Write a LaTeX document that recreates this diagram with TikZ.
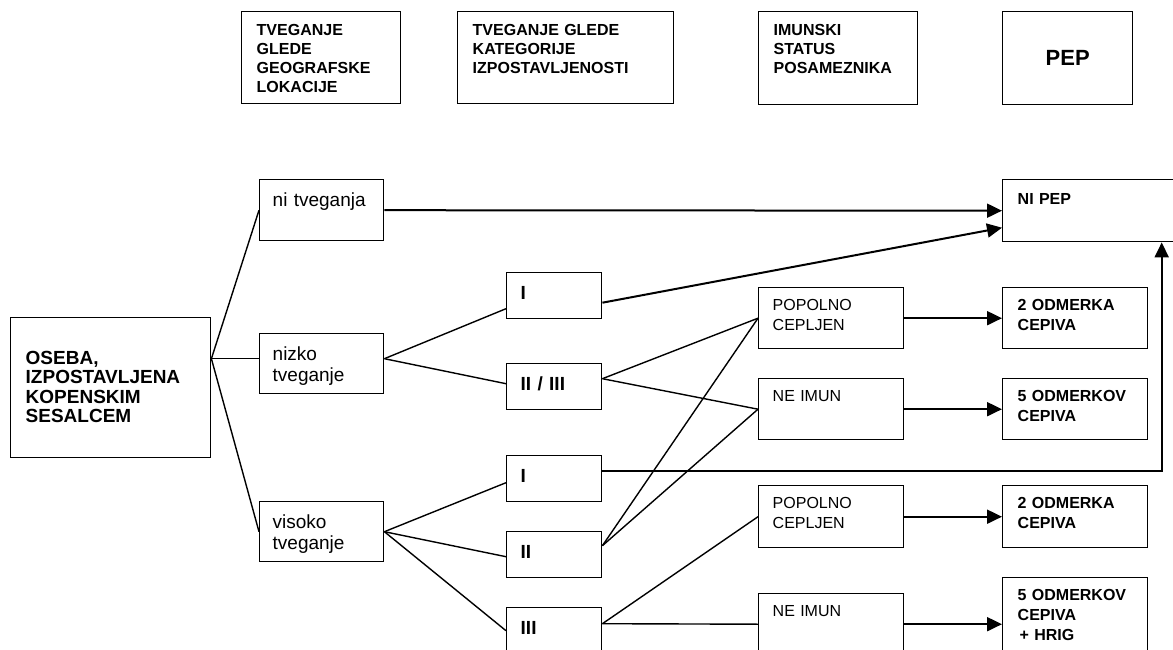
\documentclass[tikz,border=0pt]{standalone}
\usepackage{fontspec}
\setmainfont{Liberation Sans}
\usetikzlibrary{arrows.meta}

\begin{document}
\begin{tikzpicture}[x=1pt, y=-1pt,
  box/.style={draw, line width=1.4pt, anchor=north west, align=left},
  hdr/.style={box, font=\fontsize{16}{19}\selectfont\bfseries, inner xsep=15pt, inner ysep=12pt, text height=11.5pt, text depth=56.5pt},
  geo/.style={box, font=\fontsize{19}{21.5}\selectfont, inner xsep=13pt, inner ysep=13pt, text width=98pt, text height=13.7pt, text depth=20.3pt},
  cat/.style={box, font=\fontsize{19}{21}\selectfont\bfseries, inner xsep=14pt, inner ysep=13pt, text width=67pt, text height=13.7pt, text depth=6.3pt},
  imm/.style={box, font=\fontsize{16}{20}\selectfont, inner xsep=14pt, inner ysep=11.5pt, text width=117pt, text height=11.5pt, text depth=26.5pt},
  pep/.style={box, font=\fontsize{16}{20}\selectfont\bfseries, inner xsep=15pt, inner ysep=11pt, text width=115pt, text height=11.5pt, text depth=27.5pt},
  link/.style={line width=1.4pt},
  arr/.style={line width=2pt, -{Triangle[length=15pt, width=14pt]}}]
  \useasboundingbox (0,0) rectangle (1173,650);
  \clip (0,0) rectangle (1173,650);
  \fill[white] (0,0) rectangle (1173,650);
  % column heads
  \node[hdr, text width=129pt] (hgeo) at (241,11) {TVEGANJE\\GLEDE\\GEOGRAFSKE\\LOKACIJE};
  \node[hdr, text width=186pt] (hcat) at (457,11) {TVEGANJE GLEDE\\KATEGORIJE\\IZPOSTAVLJENOSTI};
  \node[hdr, text width=129pt, text depth=57.5pt] (himun) at (758,11) {IMUNSKI\\STATUS\\POSAMEZNIKA};
  \node[box, minimum width=130pt, minimum height=93pt, font=\fontsize{22}{24}\selectfont\bfseries] (hpep) at (1002,11) {PEP};
  % exposed person
  \node[box, font=\fontsize{19}{19.5}\selectfont\bfseries, inner xsep=15pt, inner ysep=33pt, text width=170pt, text height=13.7pt, text depth=60.3pt] (oseba) at (10,317) {OSEBA,\\IZPOSTAVLJENA\\KOPENSKIM\\SESALCEM};
  \coordinate (fork) at ([yshift=29pt]oseba.east);
  % geographic risk
  \node[geo, text depth=21.3pt] (ni) at (259,179) {ni tveganja};
  \node[geo] (nizko) at (259,333) {nizko\\tveganje};
  \node[geo] (visoko) at (259,501) {visoko\\tveganje};
  % exposure category
  \node[cat] (catIa) at (506,272) {I};
  \node[cat] (catIIa) at (506,363) {II / III};
  \node[cat] (catIb) at (506,455) {I};
  \node[cat] (catIIb) at (506,531) {II};
  \node[cat] (catIIIb) at (506,607) {III};
  % immune status
  \node[imm] (cepa) at (758,287) {POPOLNO\\CEPLJEN};
  \node[imm] (neima) at (758,378) {NE IMUN};
  \node[imm, text depth=27.5pt] (cepb) at (758,485) {POPOLNO\\CEPLJEN};
  \node[imm] (neimb) at (758,593) {NE IMUN};
  % PEP
  \node[pep, text width=288pt, inner ysep=13pt, text depth=24.5pt] (nipep) at (1002,179) {NI PEP};
  \node[pep] (dvaa) at (1002,287) {2 ODMERKA\\CEPIVA};
  \node[pep] (peta) at (1002,378) {5 ODMERKOV\\CEPIVA};
  \node[pep, text depth=28.5pt] (dvab) at (1002,485) {2 ODMERKA\\CEPIVA};
  \node[pep, text depth=46.5pt] (petb) at (1002,577) {5 ODMERKOV\\CEPIVA\\\hspace*{2pt}+ HRIG};
  % Draw the branches
  \draw[link] (fork) -- (ni.west);
  \draw[link] (fork) -- ([yshift=5pt]nizko.west);
  \draw[link] (fork) -- (visoko.west);
  \draw[link] ([yshift=5pt]nizko.east) -- ([yshift=-13pt]catIa.west);
  \draw[link] ([yshift=5pt]nizko.east) -- ([yshift=3pt]catIIa.west);
  \draw[link] (visoko.east) -- ([yshift=-4pt]catIb.west);
  \draw[link] (visoko.east) -- ([yshift=-2pt]catIIb.west);
  \draw[link] (visoko.east) -- (catIIIb.west);
  \draw[link] ([yshift=8pt]catIIa.east) -- (cepa.west);
  \draw[link] ([yshift=8pt]catIIa.east) -- (neima.west);
  \draw[link] ([yshift=9pt]catIIb.east) -- (cepa.west);
  \draw[link] ([yshift=9pt]catIIb.east) -- (neima.west);
  \draw[link] ([yshift=7pt]catIIIb.east) -- (cepb.west);
  \draw[link] ([yshift=7pt]catIIIb.east) -- (neimb.west);
  % Draw the arrows to PEP
  \draw[arr] (ni.east) -- (nipep.west);
  \draw[arr] ([yshift=-7pt]catIa.east) -- ([yshift=-17pt]nipep.west);
  \draw[arr] ([yshift=8pt]catIb.east) -| (nipep.south);
  \draw[arr] (cepa.east) -- (dvaa.west);
  \draw[arr] (neima.east) -- (peta.west);
  \draw[arr] (cepb.east) -- (dvab.west);
  \draw[arr] (neimb.east) -- (neimb.east -| petb.west);
\end{tikzpicture}
\end{document}
